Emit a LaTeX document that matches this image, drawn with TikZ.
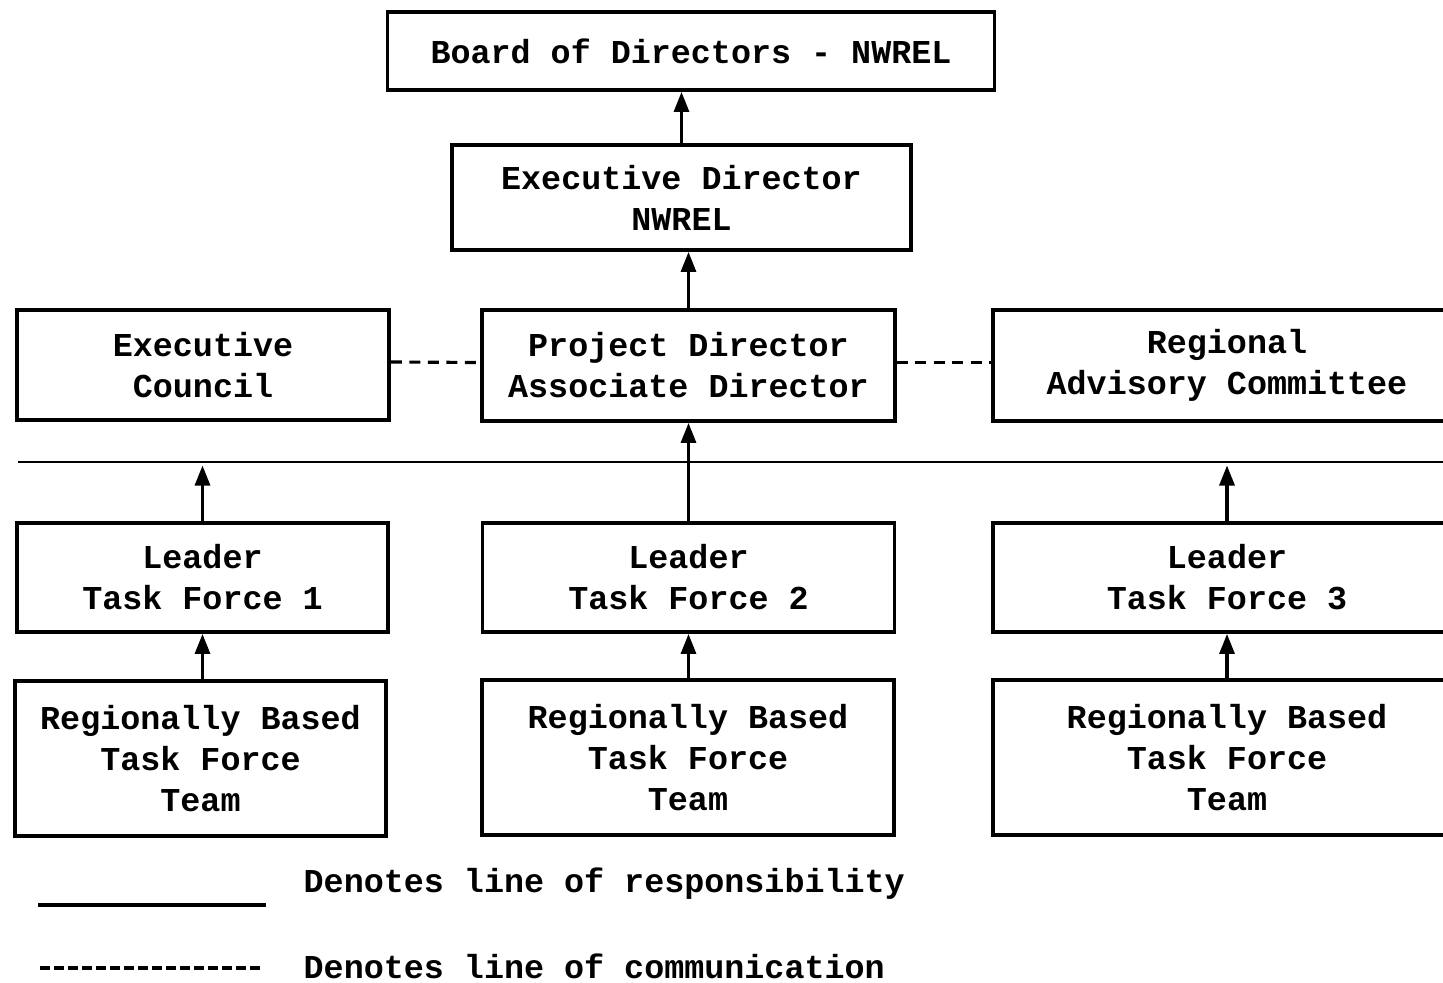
\documentclass[tikz,border=0pt]{standalone}
\usepackage{fontspec}
\setmainfont{Liberation Mono}
\usetikzlibrary{arrows.meta, positioning, calc}

\begin{document}
\begin{tikzpicture}[
    box/.style={rectangle, draw, line width=2.2pt, fill=white, align=center,
                font=\fontsize{19}{23.3}\selectfont\bfseries, inner sep=2pt},
    resp/.style={-{Triangle[length=0.4cm, width=0.3cm]}, line width=1.8pt},
    comm/.style={line width=1.8pt, dash pattern=on 0.22cm off 0.15cm},
    legend/.style={anchor=west, font=\fontsize{19}{23.3}\selectfont\bfseries}]

    \useasboundingbox (0,0) rectangle (28.86,-19.66);

    % Top of the chart
    \node[box, minimum width=12.14cm, minimum height=1.56cm] (board) at (13.82,-1.02) {Board of Directors - NWREL};
    \node[box, minimum width=9.18cm, minimum height=2.1cm] (execdir) at (13.63,-3.95) {Executive Director\\NWREL};

    % Middle row
    \node[box, minimum width=7.44cm, minimum height=2.2cm] (council) at (4.06,-7.3) {Executive\\Council};
    \node[box, minimum width=8.26cm, minimum height=2.22cm] (project) at (13.77,-7.31) {Project Director\\Associate Director};
    \node[box, minimum width=9.36cm, minimum height=2.22cm] (advisory) at (24.54,-7.31) {Regional\\Advisory Committee};

    % Leaders
    \node[box, minimum width=7.42cm, minimum height=2.18cm] (lead1) at (4.05,-11.55) {Leader\\Task Force 1};
    \node[box, minimum width=8.24cm, minimum height=2.18cm] (lead2) at (13.77,-11.55) {Leader\\Task Force 2};
    \node[box, minimum width=9.36cm, minimum height=2.18cm] (lead3) at (24.54,-11.55) {Leader\\Task Force 3};

    % Teams
    \node[box, minimum width=7.42cm, minimum height=3.1cm] (team1) at (4.01,-15.17) {Regionally Based\\Task Force\\Team};
    \node[box, minimum width=8.24cm, minimum height=3.1cm] (team2) at (13.76,-15.15) {Regionally Based\\Task Force\\Team};
    \node[box, minimum width=9.36cm, minimum height=3.1cm] (team3) at (24.54,-15.15) {Regionally Based\\Task Force\\Team};

    % Dividing line
    \coordinate (barL) at (0.36,-9.24);
    \coordinate (barR) at (28.86,-9.24);
    \draw[line width=1pt] (barL) -- (barR);
    \coordinate (bar1) at (lead1.north |- barL);
    \coordinate (bar3) at (lead3.north |- barL);

    % Lines of responsibility
    \draw[resp] (execdir.north) -- (execdir.north |- board.south);
    \draw[resp] (project.north) -- (project.north |- execdir.south);
    \draw[resp] (lead2.north) -- (project.south);
    \draw[resp] (lead1.north) -- ([yshift=-0.07cm]bar1);
    \draw[resp] (lead3.north) -- ([yshift=-0.07cm]bar3);
    \draw[resp] (team1.north -| lead1.south) -- (lead1.south);
    \draw[resp] (team2.north -| lead2.south) -- (lead2.south);
    \draw[resp] (team3.north) -- (lead3.south);

    % Lines of communication
    \draw[comm] ([yshift=0.06cm]council.east) -- ([yshift=0.06cm]project.west);
    \draw[comm] ([yshift=0.06cm]project.east) -- ([yshift=0.06cm]advisory.west);

    % Legend
    \coordinate (solidA) at (0.76,-18.1);
    \coordinate (solidB) at (5.32,-18.1);
    \coordinate (dashA) at (0.8,-19.36);
    \coordinate (dashB) at (5.24,-19.36);
    \draw[line width=2pt] (solidA) -- (solidB);
    \draw[comm, dash pattern=on 0.2cm off 0.08cm] (dashA) -- (dashB);
    \node[legend] (legresp) at (5.95,-17.68) {Denotes line of responsibility};
    \node[legend] (legcomm) at (5.95,-19.32) {Denotes line of communication};

\end{tikzpicture}
\end{document}
